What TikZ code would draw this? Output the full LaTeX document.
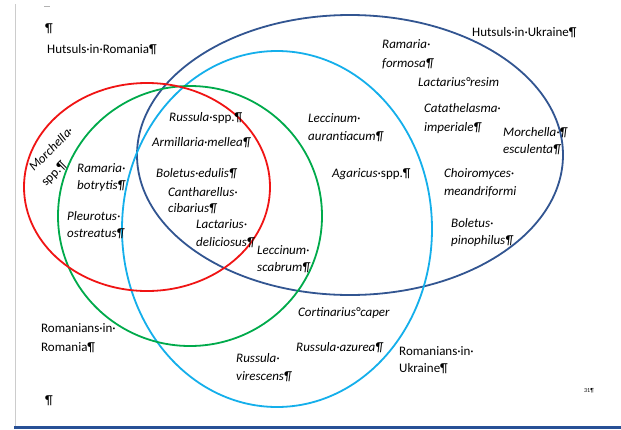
\documentclass[tikz,border=0pt]{standalone}
\usepackage{fontspec}
\setmainfont{Carlito}
\definecolor{cred}{RGB}{240,20,20}
\definecolor{cgreen}{RGB}{0,170,75}
\definecolor{clblue}{RGB}{20,175,235}
\definecolor{cdblue}{RGB}{50,85,145}
\definecolor{cbar}{RGB}{40,80,150}
\begin{document}
\begin{tikzpicture}[x=1pt,y=-1pt,
  txt/.style={anchor=base west, inner sep=0pt, font=\fontsize{13}{15}\selectfont},
  itx/.style={anchor=base west, inner sep=0pt, font=\fontsize{13}{15}\selectfont\itshape},
  setline/.style={line width=1.8pt}]
\fill[white] (0,0) rectangle (621,429);
\useasboundingbox (0,0) rectangle (621,429);
% page furniture
\draw[gray!40, line width=0.8pt] (15,4) -- (15,429);
\draw[gray!60, line width=0.8pt] (44,6) -- (50,6);
\fill[cbar] (14,425.5) rectangle (621,429);
% sets
\draw[setline, cdblue] (350,155) ellipse [x radius=213pt, y radius=140pt];
\draw[setline, clblue] (277,229) ellipse [x radius=155pt, y radius=178pt];
\draw[setline, cgreen] (190,216) ellipse [x radius=132pt, y radius=130pt];
\draw[setline, cred] (147,187) ellipse [x radius=123pt, y radius=104pt];
% labels
\node[txt] (p1) at (45,32) {¶};
\node[txt] (hr) at (47,53) {Hutsuls·in·Romania¶};
\node[txt] (hu) at (472,36) {Hutsuls·in·Ukraine¶};
\node[txt] (rr1) at (41,332) {Romanians·in·};
\node[txt] (rr2) at (41,351) {Romania¶};
\node[txt] (ru1) at (399,355) {Romanians·in·};
\node[txt] (ru2) at (399,372) {Ukraine¶};
\node[txt] (p2) at (45,404) {¶};
\node[txt, font=\fontsize{6}{7}\selectfont] (pg) at (584,392) {31¶};
% species
\node[itx] (rf1) at (382,48) {Ramaria·};
\node[itx] (rf2) at (382,67) {formosa¶};
\node[itx] (lr) at (418,86) {Lactarius°resim};
\node[itx] (ci1) at (424,112) {Catathelasma·};
\node[itx] (ci2) at (424,131) {imperiale¶};
\node[itx] (me1) at (503,136) {Morchella·¶};
\node[itx] (me2) at (503,153) {esculenta¶};
\node[itx] (la1) at (308,122) {Leccinum·};
\node[itx] (la2) at (308,140) {aurantiacum¶};
\node[itx] (ag) at (332,177) {Agaricus\upshape·spp.¶};
\node[itx] (cm1) at (444,177) {Choiromyces·};
\node[itx] (cm2) at (444,195) {meandriformi};
\node[itx] (bp1) at (451,227) {Boletus·};
\node[itx] (bp2) at (451,244) {pinophilus¶};
\node[itx] (rs) at (169,121) {Russula\upshape·spp.¶};
\node[itx] (am) at (152,146) {Armillaria·mellea¶};
\node[itx] (be) at (156,177) {Boletus·edulis¶};
\node[itx] (cc1) at (168,196) {Cantharellus·};
\node[itx] (cc2) at (168,212) {cibarius¶};
\node[itx] (ld1) at (196,228) {Lactarius·};
\node[itx] (ld2) at (196,246) {deliciosus¶};
\node[itx] (ls1) at (257,254) {Leccinum·};
\node[itx] (ls2) at (257,271) {scabrum¶};
\node[itx, rotate=45] (ms1) at (34,172) {Morchella·};
\node[txt, rotate=45] (ms2) at (46,187) {spp.¶};
\node[itx] (rb1) at (77,172) {Ramaria·};
\node[itx] (rb2) at (77,189) {botrytis¶};
\node[itx] (po1) at (67,220) {Pleurotus·};
\node[itx] (po2) at (67,237) {ostreatus¶};
\node[itx] (cp) at (298,316) {Cortinarius°caper};
\node[itx] (ra) at (296,351) {Russula·azurea¶};
\node[itx] (rv1) at (236,362) {Russula·};
\node[itx] (rv2) at (236,380) {virescens¶};
\end{tikzpicture}
\end{document}
